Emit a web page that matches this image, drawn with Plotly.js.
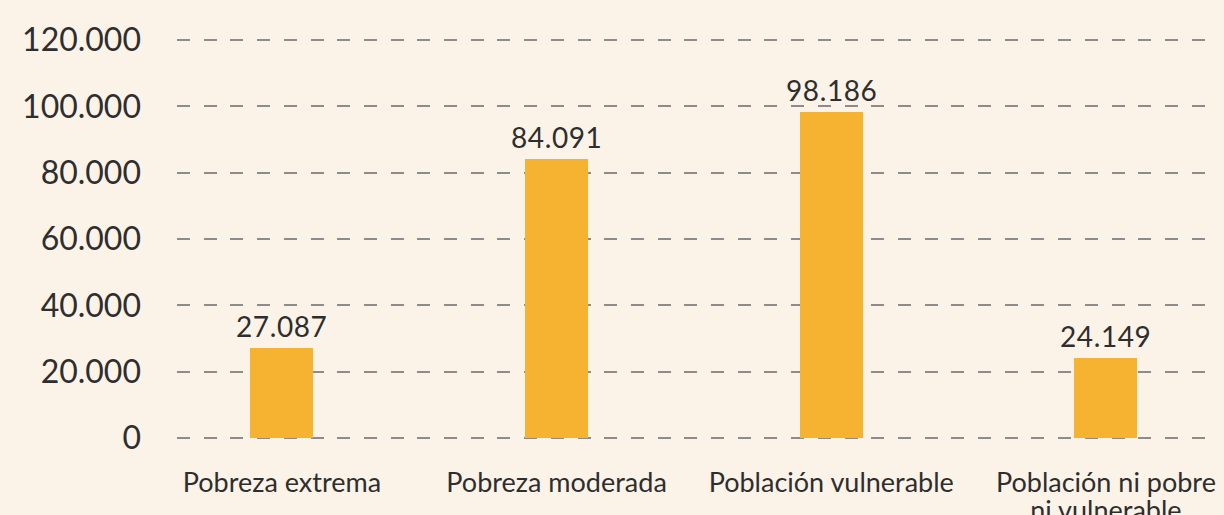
<!DOCTYPE html>
<html>
<head>
<meta charset="utf-8">
<script src="https://cdn.plot.ly/plotly-3.0.1.min.js"></script>
<style>
html,body{margin:0;padding:0;background:#fcf3e8;}
#chart{width:1224px;height:515px;}
.annotation-text{letter-spacing:0.6px;}
</style>
</head>
<body>
<div id="chart"></div>
<script>
const categories = ["Pobreza extrema", "Pobreza moderada", "Población vulnerable", "Población ni pobre<br>ni vulnerable"];
const values = [27087, 84091, 98186, 24149];
const tickValues = [0, 20000, 40000, 60000, 80000, 100000, 120000];

function fmt(v) {
  return String(v).replace(/\B(?=(\d{3})+(?!\d))/g, ".");
}

const xs = categories.map((c, i) => i);

const trace = {
  type: "bar",
  x: xs,
  y: values,
  width: 0.229,
  marker: {color: "#f5b331", line: {width: 0}},
  hoverinfo: "none"
};

const annotations = values.map((v, i) => ({
  x: xs[i],
  y: v,
  xref: "x",
  yref: "y",
  text: fmt(v),
  showarrow: false,
  yanchor: "bottom",
  xanchor: "center",
  yshift: 3,
  font: {family: "Lato, sans-serif", size: 28, color: "#2e2e2e"}
}));

const layout = {
  width: 1224,
  height: 515,
  paper_bgcolor: "#fcf3e8",
  plot_bgcolor: "#fcf3e8",
  separators: ",.",
  margin: {l: 177, r: 6, t: 38, b: 75, pad: 0},
  showlegend: false,
  font: {family: "Lato, sans-serif", color: "#2e2e2e"},
  annotations: annotations,
  xaxis: {
    range: [-0.382, 3.408],
    tickmode: "array",
    tickvals: xs,
    ticktext: categories,
    showgrid: false,
    zeroline: false,
    showline: false,
    ticks: "",
    ticklabelstandoff: 24,
    tickfont: {family: "Lato, sans-serif", size: 27, color: "#2e2e2e"}
  },
  yaxis: {
    range: [-600, 120600],
    tickmode: "array",
    tickvals: tickValues,
    tickformat: ",d",
    showgrid: true,
    gridcolor: "#8c8c8c",
    gridwidth: 2,
    griddash: "13px,13.7px",
    zeroline: false,
    showline: false,
    ticks: "",
    ticklabelstandoff: 35,
    tickfont: {family: "Lato, sans-serif", size: 32, color: "#2e2e2e"}
  },
  bargap: 0
};

Plotly.newPlot("chart", [trace], layout, {displayModeBar: false, staticPlot: true}).then(() => {
  document.querySelectorAll(".xtick text tspan.line").forEach(t => {
    const dy = t.getAttribute("dy");
    if (dy && dy !== "0em" && dy !== "0") t.setAttribute("dy", "1.05em");
  });
});
</script>
</body>
</html>
